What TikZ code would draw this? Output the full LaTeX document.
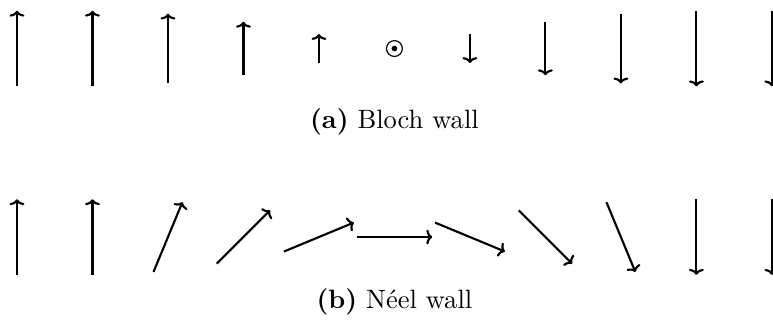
\documentclass[tikz,border=0pt]{standalone}
\usetikzlibrary{arrows.meta,calc}
\begin{document}
\begin{tikzpicture}[
  spin/.style={thick, -{To[length=2.2pt,width=5.6pt]}},
  caption/.style={inner sep=0pt, font=\normalsize}
]
\useasboundingbox (0,0) rectangle (10.24,-4.305);

% sites along each wall
\foreach \i in {0,...,10} {
  \coordinate (b\i) at ({0.225+\i},-0.643);
  \coordinate (n\i) at ({0.225+\i},-3.14);
}

% Bloch wall: the moment turns out of the plane, so only its
% in-plane projection (length cos of the angle) is drawn
\foreach \i/\a in {0/0,1/0,2/22.5,3/45,4/67.5,6/112.5,7/135,8/157.5,9/180,10/180} {
  \pgfmathsetmacro{\h}{0.5*cos(\a)}
  \coordinate (bt\i) at ($(b\i)+(0,-\h)$);
  \coordinate (bh\i) at ($(b\i)+(0,\h)$);
  \draw[spin] (bt\i) -- (bh\i);
}
% moment pointing out of the page at the wall centre
\node[circle, draw, line width=0.45pt, minimum size=0.21cm, inner sep=0pt] (bc) at (b5) {};
\fill (bc.center) circle (0.038);

% Neel wall: the moment turns within the plane
\foreach \i/\a in {0/0,1/0,2/22.5,3/45,4/67.5,5/90,6/112.5,7/135,8/157.5,9/180,10/180} {
  \coordinate (nt\i) at ($(n\i)+({-0.5*sin(\a)},{-0.5*cos(\a)})$);
  \coordinate (nh\i) at ($(n\i)+({0.5*sin(\a)},{0.5*cos(\a)})$);
  \draw[spin] (nt\i) -- (nh\i);
}

\node[caption] (capa) at (5.225,-1.62) {\textbf{(a)} Bloch wall};
\node[caption] (capb) at (5.225,-4.0) {\textbf{(b)} N\'eel wall};
\end{tikzpicture}
\end{document}
